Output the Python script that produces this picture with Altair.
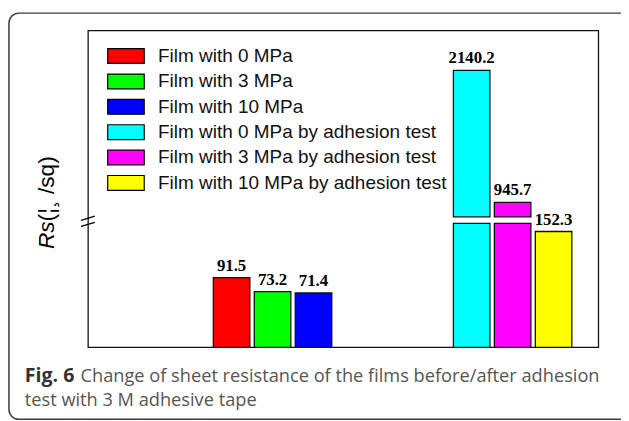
import altair as alt
import pandas as pd

# ---- data ----
series = [
    "Film with 0 MPa",
    "Film with 3 MPa",
    "Film with 10 MPa",
    "Film with 0 MPa by adhesion test",
    "Film with 3 MPa by adhesion test",
    "Film with 10 MPa by adhesion test",
]
groups = ["before", "before", "before", "after", "after", "after"]
slots = [0, 1, 2, 0, 1, 2]
values = [91.5, 73.2, 71.4, 2140.2, 945.7, 152.3]
colors = ["#FF0000", "#00FF00", "#0000FF", "#00FFFF", "#FF00FF", "#FFFF00"]

# broken-axis parameters (value where lower segment stops / upper segment starts)
LOW_TOP = 163.0
HIGH_BOTTOM = 813.5
Y_MAX = 2502.0

W, H = 517, 321

vals = pd.DataFrame({"series": series, "group": groups, "slot": slots, "value": values})
vals["label"] = vals["value"].map(lambda v: f"{v:.1f}")

seg_rows = []
for s, g, k, v in zip(series, groups, slots, values):
    seg_rows.append({"series": s, "group": g, "slot": k, "y0": 0.0, "y1": min(v, LOW_TOP)})
    if v > HIGH_BOTTOM:
        seg_rows.append({"series": s, "group": g, "slot": k, "y0": HIGH_BOTTOM, "y1": v})
segs = pd.DataFrame(seg_rows)

yscale = alt.Scale(domain=[0, LOW_TOP, HIGH_BOTTOM, Y_MAX], range=[H, 195.5, 189, 0], nice=False, zero=False)
xscale = alt.Scale(domain=["before", "after"], range=[65.4, 551.8], paddingInner=0, paddingOuter=0)
xoff = alt.Scale(range=[59.35, 183.85], paddingInner=0.108, paddingOuter=0.054)

legend = alt.Legend(
    orient="none", legendX=19, legendY=16, direction="vertical", title=None,
    symbolType="M-1,-0.405L1,-0.405L1,0.405L-1,0.405Z", symbolSize=1369,
    symbolStrokeColor="#000", symbolStrokeWidth=1.2, symbolOpacity=1,
    labelFont="Liberation Sans", labelFontSize=19.2, labelColor="#111",
    labelOffset=13, clipHeight=20, rowPadding=4.7, padding=0, labelLimit=0,
)

bars = alt.Chart(segs).mark_bar(stroke="#111", strokeWidth=1.3, opacity=1).encode(
    x=alt.X("group:N", scale=xscale, axis=None),
    xOffset=alt.XOffset("slot:O", scale=xoff),
    y=alt.Y("y0:Q", scale=yscale, axis=None),
    y2="y1:Q",
    color=alt.Color("series:N", sort=series, scale=alt.Scale(domain=series, range=colors), legend=legend),
)

labels = alt.Chart(vals).mark_text(
    font="Liberation Serif", fontWeight="bold", fontSize=17, color="#000",
    baseline="alphabetic", dy=-7,
).encode(
    x=alt.X("group:N", scale=xscale, axis=None),
    xOffset=alt.XOffset("slot:O", scale=xoff),
    y=alt.Y("value:Q", scale=yscale, axis=None),
    text="label:N",
)

one = alt.Data(values=[{}])

frame = alt.Chart(one).mark_rect(
    filled=False, stroke="#3a3a3a", strokeWidth=1.5, cornerRadius=10
).encode(x=alt.value(-80), x2=alt.value(570), y=alt.value(-17.5), y2=alt.value(394))

brk1 = alt.Chart(one).mark_rule(color="#000", strokeWidth=1.2).encode(
    x=alt.value(-7), x2=alt.value(7), y=alt.value(192.5), y2=alt.value(188.2))
brk2 = alt.Chart(one).mark_rule(color="#000", strokeWidth=1.2).encode(
    x=alt.value(-7), x2=alt.value(7), y=alt.value(198.5), y2=alt.value(194.5))

ytitle1 = alt.Chart(one).mark_text(
    text="Rs", font="Liberation Sans", fontSize=23, fontStyle="italic", angle=270,
    align="left", baseline="alphabetic", color="#000",
).encode(x=alt.value(-34.5), y=alt.value(221.5))
ytitle2 = alt.Chart(one).mark_text(
    text="(¦¸ /sq)", font="Liberation Sans", fontSize=23, angle=270,
    align="left", baseline="alphabetic", color="#000",
).encode(x=alt.value(-34.5), y=alt.value(193.5))

cap_bold = alt.Chart(one).mark_text(
    text="Fig. 6", font="Open Sans", fontSize=19.8, fontWeight="bold",
    align="left", baseline="alphabetic", color="#333",
).encode(x=alt.value(-64), y=alt.value(356))
cap1 = alt.Chart(one).mark_text(
    text="Change of sheet resistance of the films before/after adhesion", font="Open Sans",
    fontSize=18.45, align="left", baseline="alphabetic", color="#555",
).encode(x=alt.value(-7.5), y=alt.value(356))
cap2 = alt.Chart(one).mark_text(
    text="test with 3 M adhesive tape", font="Open Sans",
    fontSize=18.45, align="left", baseline="alphabetic", color="#555",
).encode(x=alt.value(-64), y=alt.value(380))

chart = alt.layer(
    frame, bars, labels, brk1, brk2, ytitle1, ytitle2, cap_bold, cap1, cap2
).properties(
    width=W, height=H,
    autosize=alt.AutoSizeParams(type="none"),
    padding={"left": 81, "top": 20, "right": 23, "bottom": 72},
    background="white",
).configure_view(stroke="#111", strokeWidth=1.3)

chart.save("out.html", embed_options={"renderer": "svg", "actions": False})
